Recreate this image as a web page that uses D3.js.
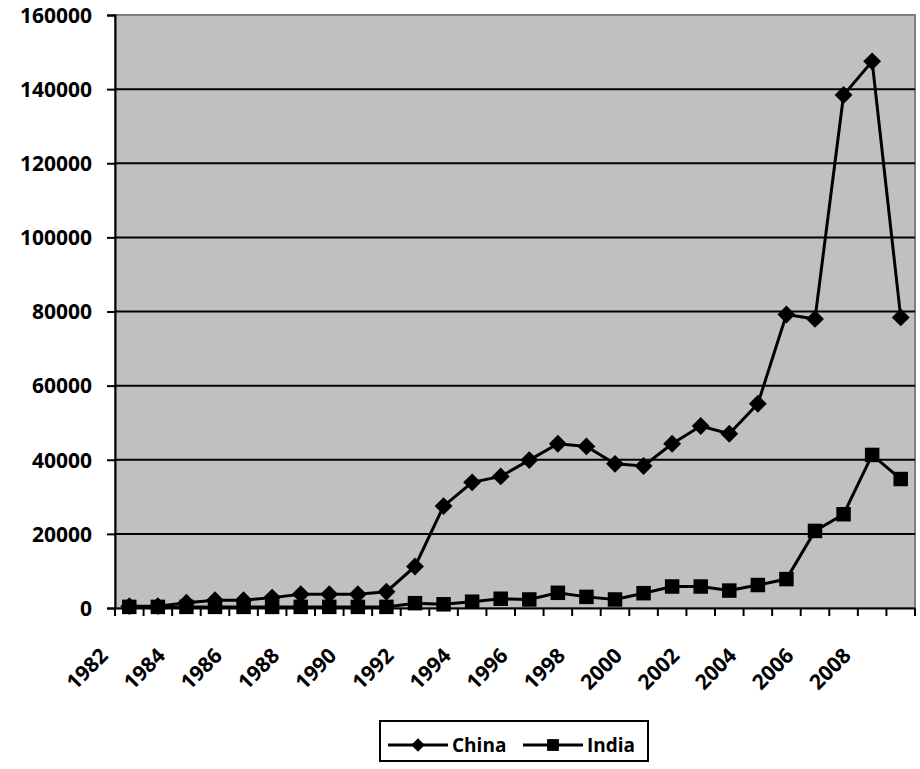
<!DOCTYPE html>
<html>
<head>
<meta charset="utf-8">
<script src="https://cdn.jsdelivr.net/npm/d3@7"></script>
<style>
  body { margin: 0; background: #fff; }
  text { font-family: "Open Sans", Lato, sans-serif; font-weight: bold; }
</style>
</head>
<body>
<div id="chart"></div>
<script>
const years = d3.range(1982, 2010);
const yearLabels = years.filter(y => y % 2 === 0);
const china = [500, 500, 1400, 2100, 2100, 2800, 3700, 3700, 3700, 4400, 11200, 27500,
    33900, 35500, 39900, 44300, 43600, 38900, 38300, 44300, 49100, 47000, 55100,
    79200, 78000, 138400, 147500, 78400];
const india = [300, 300, 300, 300, 300, 300, 300, 300, 300, 300, 1300, 1000,
    1700, 2500, 2300, 4100, 3000, 2300, 4000, 5800, 5800, 4700, 6200,
    7800, 20800, 25300, 41300, 34800];
const yTicks = d3.range(0, 160001, 20000);

const width = 920, height = 769;
const margin = { top: 15, right: 5, bottom: 161, left: 115 };
const plotW = width - margin.left - margin.right;
const plotH = height - margin.top - margin.bottom;

const svg = d3.select("#chart").append("svg")
    .attr("width", width)
    .attr("height", height);

const g = svg.append("g")
    .attr("transform", `translate(${margin.left},${margin.top})`);

const x = d3.scaleBand().domain(years).range([0, plotW]);
const y = d3.scaleLinear().domain([0, 160000]).range([plotH, 0]);
const cx = d => x(d) + x.bandwidth() / 2;

// plot background
g.append("rect")
    .attr("width", plotW)
    .attr("height", plotH)
    .attr("fill", "#c0c0c0")
    .attr("stroke", "#808080")
    .attr("stroke-width", 2);

// gridlines
g.selectAll(".grid").data(yTicks.filter(t => t > 0 && t < 160000))
    .enter().append("line")
    .attr("x1", 0).attr("x2", plotW)
    .attr("y1", d => y(d)).attr("y2", d => y(d))
    .attr("stroke", "#000")
    .attr("stroke-width", 2);

// y axis
const yAxis = g.append("g")
    .call(d3.axisLeft(y).tickValues(yTicks).tickSize(8).tickPadding(15).tickFormat(d3.format("d")));
yAxis.selectAll("line").attr("stroke", "#000").attr("stroke-width", 2);
yAxis.select(".domain").attr("stroke", "#000").attr("stroke-width", 2);
yAxis.selectAll("text").attr("font-size", 21).attr("fill", "#000")
    .style("font-family", "'Open Sans', sans-serif").attr("dy", "0.35em");

// x axis
const xAxis = g.append("g")
    .attr("transform", `translate(0,${plotH})`)
    .call(d3.axisBottom(x).tickValues([]).tickSizeOuter(0));
xAxis.select(".domain").attr("stroke", "#000").attr("stroke-width", 2);
xAxis.selectAll(".xt").data(d3.range(years.length + 1))
    .enter().append("line")
    .attr("x1", i => i * x.step()).attr("x2", i => i * x.step())
    .attr("y1", 0).attr("y2", 8)
    .attr("stroke", "#000").attr("stroke-width", 2);
xAxis.selectAll(".xl").data(yearLabels)
    .enter().append("text")
    .attr("text-anchor", "end")
    .attr("font-size", 21)
    .attr("fill", "#000")
    .attr("transform", d => `translate(${cx(d) - 20},${49}) rotate(-45)`)
    .text(d => d);

// lines
const line = d3.line().x((d, i) => cx(years[i])).y(d => y(d));
const square = d3.symbol().type(d3.symbolSquare);

function drawSeries(values, size, rot) {
    g.append("path")
        .datum(values)
        .attr("d", line)
        .attr("fill", "none")
        .attr("stroke", "#000")
        .attr("stroke-width", 3);
    g.selectAll(null).data(values)
        .enter().append("path")
        .attr("d", square.size(size)())
        .attr("transform", (d, i) => `translate(${cx(years[i])},${y(d)}) rotate(${rot})`)
        .attr("fill", "#000");
}
drawSeries(china, 160, 45);
drawSeries(india, 210, 0);

// legend
const legend = svg.append("g").attr("transform", "translate(380,721)");
legend.append("rect")
    .attr("width", 268).attr("height", 40)
    .attr("fill", "#fff").attr("stroke", "#000").attr("stroke-width", 2);
const items = [
    { name: "China", size: 90, rot: 45, x: 8 },
    { name: "India", size: 140, rot: 0, x: 143 }
];
items.forEach(it => {
    const li = legend.append("g").attr("transform", `translate(${it.x},24)`);
    li.append("line").attr("x1", 0).attr("x2", 60).attr("stroke", "#000").attr("stroke-width", 3);
    li.append("path").attr("d", square.size(it.size)())
        .attr("transform", `translate(30,0) rotate(${it.rot})`).attr("fill", "#000");
    li.append("text").attr("x", 64).attr("dy", "0.35em").attr("font-size", 19).text(it.name);
});
</script>
</body>
</html>
